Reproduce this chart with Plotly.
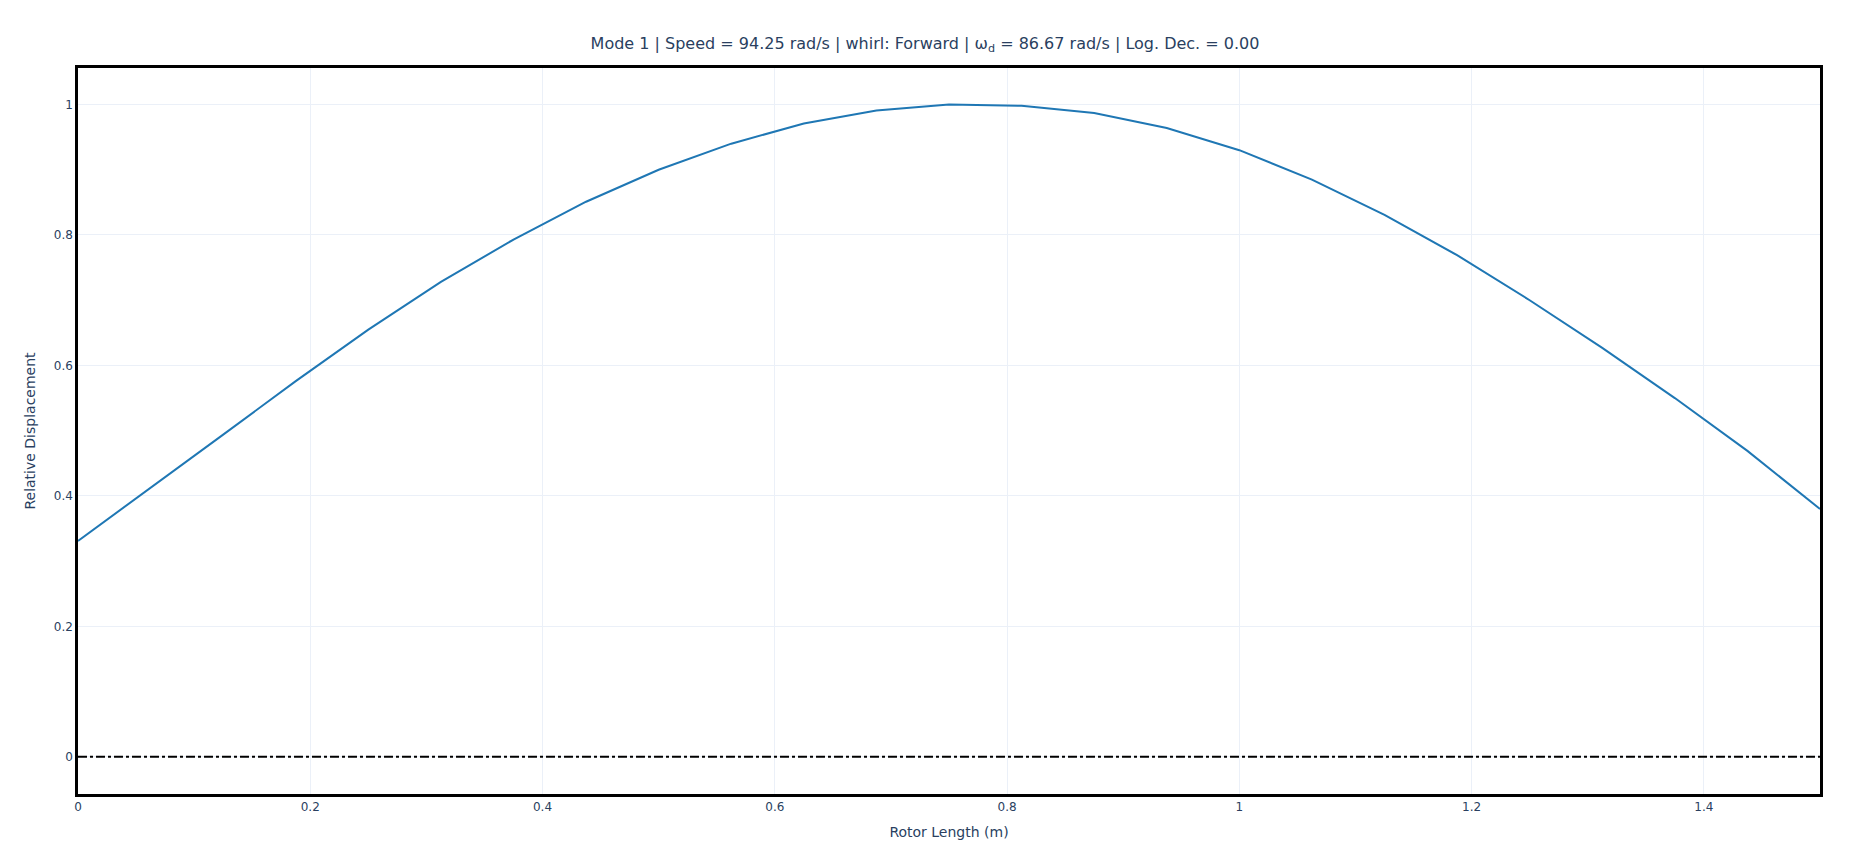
import plotly.graph_objects as go

# posicion a lo largo del rotor (m) y desplazamiento relativo del modo 1
rotor_x = [0, 0.0625, 0.125, 0.1875, 0.25, 0.3125, 0.375, 0.4375, 0.5, 0.5625, 0.625, 0.6875,
           0.75, 0.8125, 0.875, 0.9375, 1.0, 1.0625, 1.125, 1.1875, 1.25, 1.3125, 1.375, 1.4375, 1.5]
rel_disp = [0.331, 0.412, 0.494, 0.576, 0.655, 0.728, 0.793, 0.851, 0.900, 0.940, 0.971, 0.991,
            1.0, 0.998, 0.987, 0.964, 0.930, 0.885, 0.831, 0.769, 0.700, 0.627, 0.550, 0.469, 0.380]

fig = go.Figure()
fig.add_trace(go.Scatter(x=rotor_x, y=rel_disp, mode="lines",
                         line=dict(color="#1f77b4", width=2), showlegend=False))
fig.add_trace(go.Scatter(x=[rotor_x[0], rotor_x[-1]], y=[0, 0], mode="lines",
                         line=dict(color="black", dash="dashdot", width=2), showlegend=False))

fig.update_layout(
    template="plotly_white",
    font=dict(family="DejaVu Sans"),
    title=dict(text="Mode 1 | Speed = 94.25 rad/s | whirl: Forward | ω<sub>d</sub> = 86.67 rad/s | Log. Dec. = 0.00",
               x=0.5, xanchor="center", y=0.965, font=dict(size=16)),
    margin=dict(l=70, r=22, t=60, b=44),
)
fig.update_xaxes(title="Rotor Length (m)", range=[0, 1.5], showline=True, mirror=True,
                 linecolor="black", linewidth=2.5, zeroline=False)
fig.update_yaxes(title="Relative Displacement", range=[-0.057, 1.056], showline=True, mirror=True,
                 linecolor="black", linewidth=2.5, zeroline=False)

fig.write_html("out.html")
